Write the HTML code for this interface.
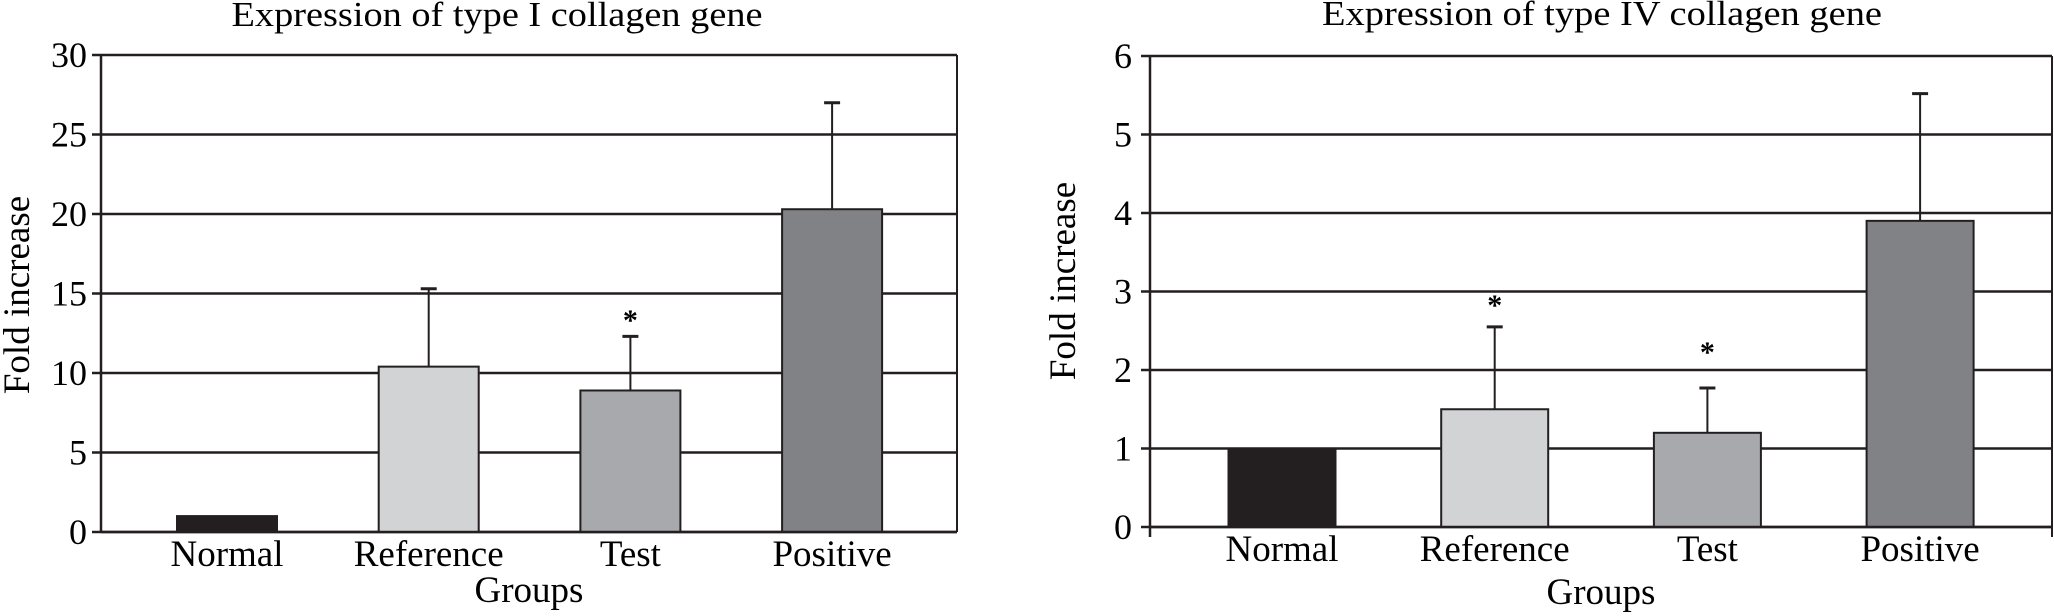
<!DOCTYPE html>
<html><head><meta charset="utf-8">
<style>
html,body{margin:0;padding:0;background:#fff;}
svg{display:block;font-family:"Liberation Serif",serif;}
</style></head>
<body>
<svg id="chart" width="2054" height="616" viewBox="0 0 2054 616" xmlns="http://www.w3.org/2000/svg">
<g id="c1"></g>
<g id="c2"></g>
</svg>
<script>
const categories = ["Normal","Reference","Test","Positive"];
const colors = ["#231f20","#d1d3d4","#a7a9ac","#808285"];
const typeIValues = [1, 10.4, 8.9, 20.3];
const typeIErrTop = [null, 15.3, 12.3, 27];
const typeIStars = [null, null, 13.6, null];
const typeITicks = [0,5,10,15,20,25,30];
const typeIVValues = [1, 1.5, 1.2, 3.9];
const typeIVErrTop = [null, 2.55, 1.77, 5.52];
const typeIVStars = [null, 2.88, 2.28, null];
const typeIVTicks = [0,1,2,3,4,5,6];

const NS="http://www.w3.org/2000/svg";
function mk(parent, tag, attrs, text){
  const el=document.createElementNS(NS,tag);
  for(const k in attrs) el.setAttribute(k,attrs[k]);
  if(text!==undefined) el.textContent=text;
  parent.appendChild(el); return el;
}
function draw(g, cfg){
  const {L,R,T,B,max,ticks,values,err,stars,c0,step,bw,title,titleX,titleY,titleLen,yTitleX,yTitleY,labelY,groupsY,tickEnd,xTicks}=cfg;
  const y=v=>B-(v/max)*(B-T);
  const x=i=>c0+step*i;
  let t=mk(g,'text',{x:titleX,y:titleY,'font-size':35,'text-anchor':'middle',textLength:titleLen,lengthAdjust:'spacingAndGlyphs'},title);
  
  
  ticks.forEach(v=>{
    const gl=mk(g,'line',{x1:L-9,x2:R,y1:y(v),y2:y(v),stroke:'#231f20','stroke-width':2.5});
    
    
    const tl=mk(g,'text',{x:tickEnd,y:y(v)+12,'font-size':36,'text-anchor':'end'},String(v));
    
    
  });
  const fr=mk(g,'line',{x1:R,x2:R,y1:T,y2:B,stroke:'#231f20','stroke-width':2});
  
  
  values.forEach((v,i)=>{
    if(err[i]!=null){
      const e=mk(g,'line',{x1:x(i),x2:x(i),y1:y(err[i]),y2:y(v),stroke:'#231f20','stroke-width':2});
      
      
      const cap=mk(g,'line',{x1:x(i)-8,x2:x(i)+8,y1:y(err[i]),y2:y(err[i]),stroke:'#231f20','stroke-width':3});
      
      
    }
    const b=mk(g,'rect',{x:x(i)-bw/2,y:y(v),width:bw,height:B-y(v),fill:colors[i],stroke:'#231f20','stroke-width':2});
    
    
    if(stars[i]!=null){
      const s=mk(g,'text',{x:x(i),y:y(stars[i])+14,'font-size':30,'font-weight':'bold','text-anchor':'middle'},'*');
      
      
    }
    const cl=mk(g,'text',{x:x(i),y:labelY,'font-size':37,'text-anchor':'middle'},categories[i]);
    
    
  });
  const ax=mk(g,'line',{x1:L,x2:R,y1:B,y2:B,stroke:'#231f20','stroke-width':2.5});
  
  
  const ay=mk(g,'line',{x1:L,x2:L,y1:T-1,y2:B+(xTicks?10:0),stroke:'#231f20','stroke-width':2.5});
  
  
  if(xTicks){
    const rt=mk(g,'line',{x1:R,x2:R,y1:B,y2:B+10,stroke:'#231f20','stroke-width':2});
    
    
  }
  const gt=mk(g,'text',{x:(L+R)/2,y:groupsY,'font-size':37,'text-anchor':'middle'},'Groups');
  
  
  const yt=mk(g,'text',{x:0,y:0,'font-size':37,'text-anchor':'middle',transform:`translate(${yTitleX},${yTitleY}) rotate(-90)`},'Fold increase');
  
  
}
draw(document.getElementById('c1'),{L:101,R:957,T:55,B:532,max:30,ticks:typeITicks,values:typeIValues,err:typeIErrTop,stars:typeIStars,
  c0:227,step:201.7,bw:100,title:'Expression of type I collagen gene',titleX:497,titleY:26,titleLen:531,yTitleX:29,yTitleY:295,labelY:566,groupsY:602,tickEnd:87,xTicks:false});
draw(document.getElementById('c2'),{L:1150,R:2052,T:56,B:527,max:6,ticks:typeIVTicks,values:typeIVValues,err:typeIVErrTop,stars:typeIVStars,
  c0:1282,step:212.7,bw:107,title:'Expression of type IV collagen gene',titleX:1602,titleY:25,titleLen:560,yTitleX:1075,yTitleY:281,labelY:561,groupsY:604,tickEnd:1132,xTicks:true});
</script>
</body></html>
